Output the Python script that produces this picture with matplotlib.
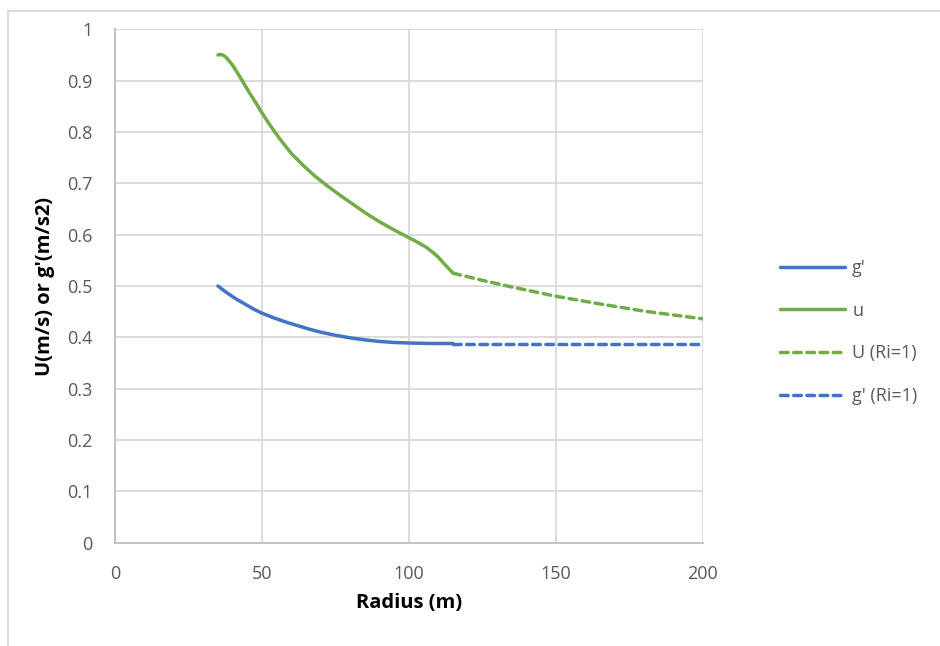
import matplotlib.pyplot as plt
from matplotlib.patches import Rectangle

# radius (m) and values
u_radius = [35, 36, 37, 38, 39, 40, 42, 44, 46, 48, 50, 53, 56, 60, 64, 68, 72,
            76, 80, 85, 90, 95, 100, 103, 106, 108, 110, 112, 114, 115]
u_vals = [0.950, 0.951, 0.949, 0.944, 0.937, 0.930, 0.912, 0.893, 0.874, 0.856,
          0.837, 0.811, 0.787, 0.758, 0.735, 0.714, 0.696, 0.679, 0.663, 0.643,
          0.625, 0.609, 0.594, 0.585, 0.575, 0.566, 0.556, 0.543, 0.531, 0.525]

g_radius = [35, 38, 41, 44, 47, 50, 54, 58, 62, 66, 70, 75, 80, 85, 90, 95, 100, 107, 115]
g_vals = [0.500, 0.487, 0.4755, 0.4655, 0.4555, 0.447, 0.438, 0.430, 0.423, 0.416,
          0.410, 0.404, 0.399, 0.395, 0.392, 0.390, 0.389, 0.388, 0.388]

U_ri_radius = [115, 125, 135, 150, 165, 180, 200]
U_ri_vals = [0.525, 0.511, 0.498, 0.480, 0.465, 0.451, 0.436]

g_ri_radius = [115, 200]
g_ri_vals = [0.388, 0.388]

x_ticks = [0, 50, 100, 150, 200]
y_ticks = [0, 0.1, 0.2, 0.3, 0.4, 0.5, 0.6, 0.7, 0.8, 0.9, 1]
y_tick_labels = ["0", "0.1", "0.2", "0.3", "0.4", "0.5", "0.6", "0.7", "0.8", "0.9", "1"]

BLUE = "#4472C4"
GREEN = "#70AD47"
plt.rcParams["font.family"] = ["Open Sans", "DejaVu Sans"]

fig = plt.figure(figsize=(9.4, 6.46), dpi=100)
ax = fig.add_axes([115 / 940, 1 - 542.7 / 646, 588 / 940, 513.4 / 646])

lw = 2.5
ax.plot(g_radius, g_vals, color=BLUE, lw=lw, solid_capstyle="round", label="g'")
ax.plot(u_radius, u_vals, color=GREEN, lw=lw, solid_capstyle="round", label="u")
ax.plot(U_ri_radius, U_ri_vals, color=GREEN, lw=lw, dashes=(2.2, 1.6),
        dash_capstyle="round", label="U (Ri=1)")
ax.plot(g_ri_radius, g_ri_vals, color=BLUE, lw=lw, dashes=(2.2, 1.6),
        dash_capstyle="round", label="g' (Ri=1)")

ax.set_xlim(0, 200)
ax.set_ylim(0, 1)
ax.set_xticks(x_ticks)
ax.set_yticks(y_ticks)
ax.set_yticklabels(y_tick_labels)
ax.tick_params(length=0, labelsize=13, labelcolor="#595959")
ax.tick_params(axis="x", pad=16)
ax.tick_params(axis="y", pad=16)

ax.grid(True, color="#d9d9d9", lw=1.3)
ax.set_axisbelow(True)
for side in ["top", "right"]:
    ax.spines[side].set_visible(False)
for side in ["left", "bottom"]:
    ax.spines[side].set_color("#bfbfbf")
    ax.spines[side].set_linewidth(1.3)

ax.set_xlabel("Radius (m)", fontsize=14.5, fontweight="bold", labelpad=7)
ax.set_ylabel("U(m/s) or g'(m/s2)", fontsize=14.5, fontweight="bold", labelpad=9)

ax.legend(loc="upper left", bbox_to_anchor=(780 / 940, 1 - 259 / 646),
          bbox_transform=fig.transFigure, frameon=False, fontsize=13,
          handlelength=3.6, handletextpad=0.4, labelspacing=1.37,
          borderpad=0, borderaxespad=0, labelcolor="#595959")

# chart area border
fig.patches.append(Rectangle((8 / 940, -0.1), 1.0, 1 - 11 / 646 + 0.1,
                             transform=fig.transFigure, fill=False,
                             edgecolor="#d9d9d9", lw=1.3))

fig.savefig("out.png", dpi=100)
